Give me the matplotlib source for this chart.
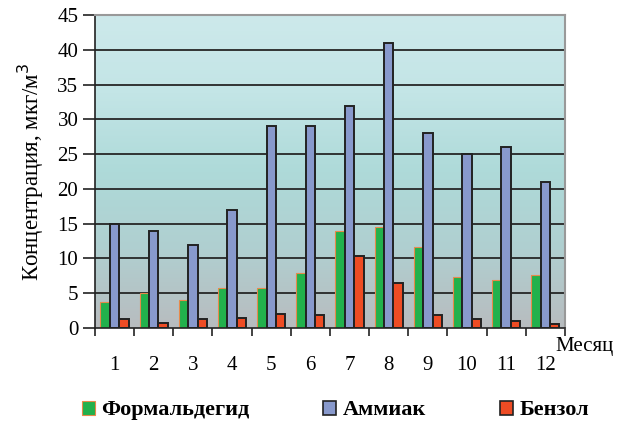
import matplotlib.pyplot as plt
import numpy as np
from matplotlib.colors import LinearSegmentedColormap
from matplotlib.patches import Patch

plt.rcParams['font.family'] = ['Liberation Serif', 'DejaVu Serif']

# monthly concentrations, mkg/m3
months = ['1', '2', '3', '4', '5', '6', '7', '8', '9', '10', '11', '12']
formaldehyde = [3.8, 5.1, 4.0, 5.8, 5.8, 7.9, 14.0, 14.5, 11.7, 7.4, 6.9, 7.6]
ammonia = [15, 14, 12, 17, 29, 29, 32, 41, 28, 25, 26, 21]
benzene = [1.25, 0.75, 1.25, 1.5, 2.0, 1.8, 10.3, 6.5, 1.8, 1.25, 1.0, 0.5]

fig = plt.figure(figsize=(6.27, 4.21), dpi=100)
ax = fig.add_axes([0.1515, 0.221, 0.7495, 0.743])

x = np.arange(len(months))
w = 0.24

# background gradient: cyan at the top, grey at the bottom
cmap = LinearSegmentedColormap.from_list('bg', ['#b8bcbf', '#b0cfd0', '#aedad9', '#c3e5e6', '#cde9eb'])
grad = np.linspace(0, 1, 256).reshape(-1, 1)
ax.imshow(grad, cmap=cmap, origin='lower', aspect='auto',
          extent=[-0.5, 11.5, 0, 45], zorder=0)

for y in range(5, 45, 5):
    ax.axhline(y, color='#262626', lw=1.3, zorder=1)

ax.bar(x - w, formaldehyde, w, color='#22b14c', edgecolor='#e8894a', lw=0.8, zorder=2)
ax.bar(x, ammonia, w, color='#8899cc', edgecolor='#222222', lw=1.4, zorder=2)
ax.bar(x + w, benzene, w, color='#ee4c24', edgecolor='#222222', lw=1.4, zorder=2)

ax.set_xlim(-0.5, 11.5)
ax.set_ylim(0, 45)
ax.set_yticks(range(0, 46, 5))
ax.tick_params(axis='y', labelsize=15, length=9, width=1.2, color='#222222', pad=3)

# ticks at group borders, labels at group centres
ax.set_xticks(np.arange(-0.5, 12, 1))
ax.set_xticklabels([])
ax.set_xticks(x, minor=True)
ax.set_xticklabels(months, minor=True, fontsize=15)
ax.tick_params(axis='x', which='major', length=6, width=1.2, color='#222222')
ax.tick_params(axis='x', which='minor', length=0, pad=20)

for s in ['top', 'right']:
    ax.spines[s].set_color('#999999')
    ax.spines[s].set_linewidth(1.5)
for s in ['left', 'bottom']:
    ax.spines[s].set_color('#222222')
    ax.spines[s].set_linewidth(1.2)

ax.set_ylabel('Концентрация, мкг/м$^3$', fontsize=16.5, labelpad=8)
fig.text(0.885, 0.178, 'Месяц', fontsize=15, ha='left', va='center')

handles = [Patch(facecolor='#22b14c', edgecolor='#e8894a', lw=0.8),
           Patch(facecolor='#8899cc', edgecolor='#222222', lw=1.2),
           Patch(facecolor='#ee4c24', edgecolor='#222222', lw=1.2)]
fig.legend(handles, ['Формальдегид', 'Аммиак', 'Бензол'], loc='center',
           bbox_to_anchor=(0.535, 0.025), ncol=3, frameon=False,
           prop={'weight': 'bold', 'size': 16}, handlelength=0.6, handleheight=0.6,
           handletextpad=0.3, columnspacing=3.3)

fig.savefig('out.png', dpi=100)
